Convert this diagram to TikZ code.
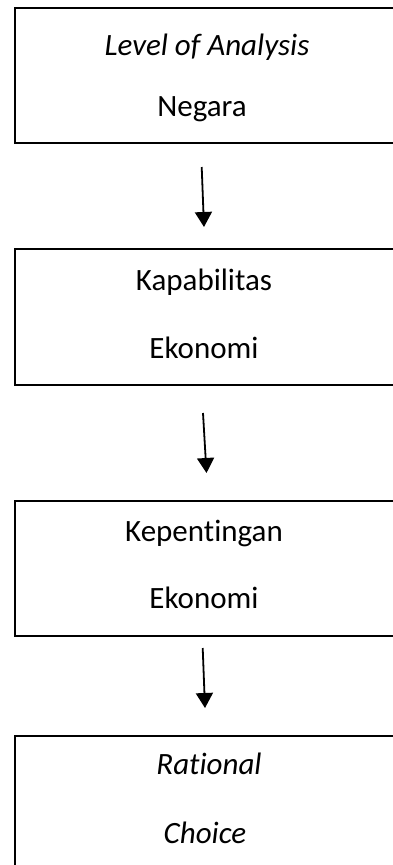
\documentclass[tikz,border=0pt]{standalone}
\usepackage{fontspec}
\setmainfont{Carlito}[Ligatures={NoCommon}]
\usetikzlibrary{arrows.meta}
\begin{document}
\begin{tikzpicture}[x=1pt,y=-1pt,
  box/.style={draw=black,line width=2pt,rectangle,minimum width=382pt,inner sep=0pt,outer sep=0pt},
  lbl/.style={anchor=base,inner sep=0pt,font=\fontsize{31}{36}\selectfont},
  flow/.style={line width=1.8pt,-{Triangle[width=17pt,length=15pt]}}]
\useasboundingbox (0,0) rectangle (392,865);
\node[box,minimum height=135.5pt] (b1) at (205.5,75.25) {};
\node[box,minimum height=136pt] (b2) at (205.5,317) {};
\node[box,minimum height=135pt] (b3) at (205.5,568.5) {};
\node[box,minimum height=136pt] (b4) at (205.5,804) {};
\node[lbl] (t1a) at (207,55) {\itshape Level of Analysis};
\node[lbl] (t1b) at (202,116.5) {Negara};
\node[lbl] (t2a) at (204,290) {Kapabilitas};
\node[lbl] (t2b) at (204,358) {Ekonomi};
\node[lbl] (t3a) at (204,541.5) {Kepentingan};
\node[lbl] (t3b) at (204,608.5) {Ekonomi};
\node[lbl] (t4a) at (209,774) {\itshape Rational};
\node[lbl] (t4b) at (205,843) {\itshape Choice};
\coordinate (a1s) at (201.7,167);
\coordinate (a1e) at (204,227);
\coordinate (a2s) at (203,413);
\coordinate (a2e) at (206.5,473);
\coordinate (a3s) at (202.7,648);
\coordinate (a3e) at (205,708);
\draw[flow] (a1s) -- (a1e);
\draw[flow] (a2s) -- (a2e);
\draw[flow] (a3s) -- (a3e);
\end{tikzpicture}
\end{document}
